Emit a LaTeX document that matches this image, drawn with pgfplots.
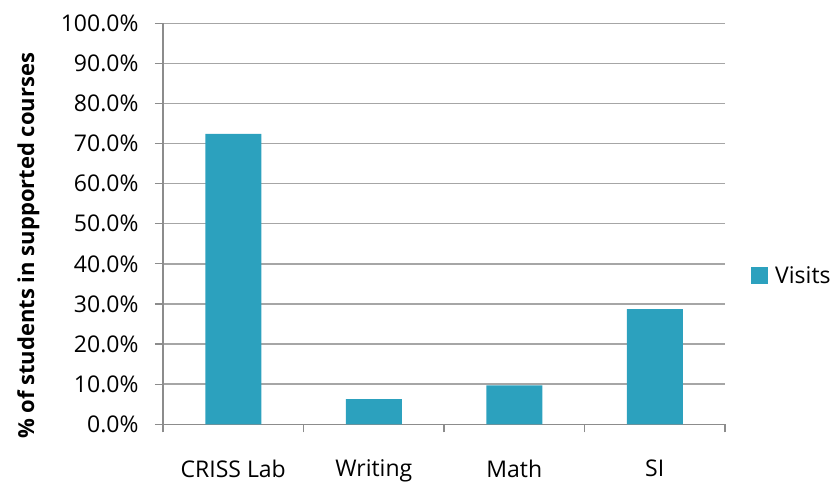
\documentclass[border=0pt]{standalone}
\usepackage{fontspec}
\setmainfont{Open Sans}
\usepackage{pgfplots}
\pgfplotsset{compat=1.18}
\definecolor{barc}{HTML}{2CA1BE}
\definecolor{gridc}{HTML}{A6A6A6}
\definecolor{axc}{HTML}{8C8C8C}
\begin{document}
\begin{tikzpicture}
\path[use as bounding box] (0,0) rectangle (840pt,484pt);
\begin{axis}[
  at={(163pt,59.7pt)}, anchor=south west,
  scale only axis, width=562pt, height=401pt,
  xmin=-0.5, xmax=3.5, ymin=0, ymax=100,
  axis x line*=bottom, axis y line*=left,
  axis line style={draw=axc, line width=1.2pt},
  ytick={0,10,...,100},
  yticklabel={\pgfmathprintnumber[fixed,fixed zerofill,precision=1]{\tick}\%},
  ymajorgrids, major grid style={draw=gridc, line width=1.4pt},
  tick align=outside,
  major tick length=8pt,
  ytick style={draw=axc, line width=1.2pt},
  xtick={0,1,2,3},
  xticklabels={CRISS Lab,Writing,Math,SI},
  xtick style={draw=none},
  extra x ticks={-0.5,0.5,1.5,2.5,3.5},
  extra x tick labels={},
  extra x tick style={xtick style={draw=axc, line width=1.2pt}, grid=none},
  tick label style={font=\fontsize{23}{27}\selectfont, /pgf/number format/assume math mode=true},
  xticklabel style={yshift=-24pt},
  yticklabel style={xshift=-13pt},
  ylabel={\bfseries \% of students in supported courses},
  ylabel style={font=\fontsize{22}{26}\selectfont, at={(rel axis cs:0,0.445)}, anchor=south, yshift=120pt},
  legend style={at={(1.0,0.37)}, anchor=west, xshift=23pt, draw=none, fill=none,
    font=\fontsize{23}{27}\selectfont, legend cell align=left},
  legend image code/.code={\fill[#1] (0pt,-8.5pt) rectangle (17pt,8.5pt); \path (22pt,0pt);},
]
\addplot[ybar, bar width=56pt, fill=barc, draw=none] coordinates {(0,72.4) (1,6.3) (2,9.7) (3,28.7)};
\addlegendentry{Visits}
\end{axis}
\end{tikzpicture}
\end{document}
